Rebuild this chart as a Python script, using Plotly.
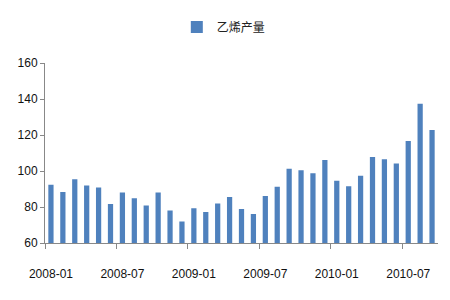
import plotly.graph_objects as go

months = [f"{y}-{m:02d}" for y in (2008, 2009, 2010) for m in range(1, 13)][:33]
values = [92.4, 88.3, 95.4, 92.0, 90.9, 81.7, 88.0, 84.8, 80.9, 88.1, 78.0, 71.9,
          79.3, 77.2, 82.0, 85.6, 78.9, 76.1, 86.1, 91.3, 101.3, 100.4, 98.7, 106.1,
          94.6, 91.5, 97.4, 107.8, 106.5, 104.1, 116.7, 137.4, 122.8]
series_name = "乙烯产量"
label_idx = list(range(0, 33, 6))

tickfont = dict(family="Liberation Sans", size=12, color="#111")

fig = go.Figure()
fig.add_trace(go.Bar(x=list(range(len(months))), y=values, name=series_name,
                     marker=dict(color="#4F81BD", line=dict(width=0))))
fig.add_trace(go.Scatter(x=[0], y=[60], xaxis="x2", mode="markers",
                         marker=dict(opacity=0), showlegend=False, hoverinfo="skip"))

fig.update_layout(
    width=450, height=300,
    margin=dict(l=45, r=12, t=63, b=57),
    paper_bgcolor="white", plot_bgcolor="white",
    bargap=0.56,
    showlegend=True,
    legend=dict(orientation="h", x=0.455, xanchor="center", y=1.2, yanchor="middle",
                font=dict(family="Noto Sans CJK SC", size=12, color="#222"),
                itemwidth=30),
    xaxis=dict(range=[-0.5, 32.5], tickmode="array", tickvals=label_idx,
               ticktext=[months[i] for i in label_idx],
               showline=True, linecolor="#888", linewidth=1,
               ticks="outside", ticklen=0, ticklabelstandoff=20,
               showgrid=False, zeroline=False, tickfont=tickfont),
    xaxis2=dict(overlaying="x", range=[-0.5, 32.5], tickmode="array",
                tickvals=[i - 0.5 for i in label_idx], showticklabels=False,
                ticks="outside", ticklen=5, tickcolor="#888", showgrid=False,
                showline=False, zeroline=False, side="bottom"),
    yaxis=dict(range=[60, 160], tickvals=[60, 80, 100, 120, 140, 160],
               showline=True, linecolor="#888", linewidth=1,
               ticks="outside", ticklen=4, tickcolor="#888",
               showgrid=False, zeroline=False, tickfont=tickfont),
)
fig.write_html("out.html")
